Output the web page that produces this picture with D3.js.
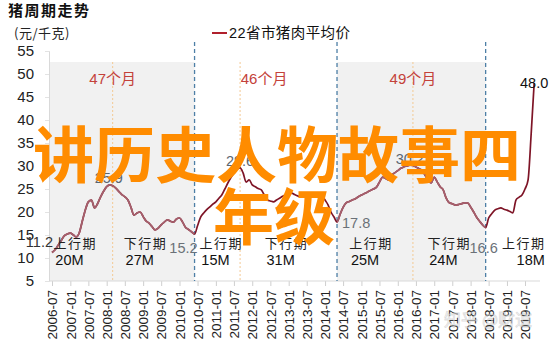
<!DOCTYPE html>
<html>
<head>
<meta charset="utf-8">
<script src="https://cdn.jsdelivr.net/npm/d3@7"></script>
<style>
  body { margin: 0; background: #fff; }
  svg { display: block; font-family: "Liberation Sans", Arial, sans-serif; }
</style>
</head>
<body>
<div id="chart"></div>
<script>
// 22省市猪肉平均价 (元/千克), one value a month from 2006-07
let startMonth = "2006-07"
let prices2006 = [11.2, 11.8, 12.8, 13.8, 14.8, 15.2, 15.4, 15.0, 14.6, 15.5, 18.0, 20.5]
let prices2007 = [22.2, 22.6, 20.9, 21.8, 23.3, 24.5, 25.5, 25.9, 25.7, 25.2, 24.5, 23.8]
let prices2008 = [23.3, 22.6, 21.0, 19.3, 19.8, 20.0, 19.0, 18.0, 17.6, 16.8, 16.1, 16.5]
let prices2009 = [17.2, 17.8, 18.3, 18.0, 17.8, 18.5, 18.7, 17.8, 16.7, 16.2, 15.7, 15.2]
let prices2010 = [17.0, 18.9, 19.8, 20.5, 21.1, 21.7, 22.2, 23.0, 23.7, 25.0, 26.3, 27.5]
let prices2011 = [28.5, 29.3, 29.6, 28.5, 26.5, 27.0, 25.9, 25.5, 25.1, 24.8, 23.7, 22.6]
let prices2012 = [22.4, 22.2, 22.6, 23.0, 23.4, 23.7, 23.9, 24.1, 23.8, 23.5, 23.3, 23.5]
let prices2013 = [23.7, 23.9, 24.0, 24.1, 23.9, 23.7, 22.6, 21.5, 20.0, 18.9, 17.8, 19.5]
let prices2014 = [21.0, 22.0, 22.3, 22.6, 22.9, 23.3, 23.7, 24.0, 24.3, 24.7, 25.0, 25.4]
let prices2015 = [26.5, 27.6, 27.3, 27.0, 28.0, 28.5, 29.0, 29.5, 29.8, 30.0, 30.2, 30.1]
let prices2016 = [29.8, 29.4, 29.1, 28.0, 27.0, 26.3, 27.6, 26.5, 25.5, 24.8, 23.0, 22.0]
let prices2017 = [21.8, 21.5, 21.6, 21.8, 22.0, 22.0, 21.1, 20.0, 18.9, 18.0, 17.2, 16.6]
let prices2018 = [18.7, 19.6, 20.4, 20.7, 20.9, 20.6, 20.4, 20.1, 19.8, 22.6, 23.2, 23.7, 25.0, 27.0, 37.0, 48.0]

// cycle turning points
let troughMonths = ["2010-06", "2014-05", "2018-06"]
let peakMonths = ["2008-03", "2011-09", "2016-06"]
let cycleLabels = ["47个月", "46个月", "49个月"]
let phaseNames = ["上行期", "下行期", "上行期", "下行期", "上行期", "下行期", "上行期"]
let phaseLengths = ["20M", "27M", "15M", "31M", "25M", "24M", "18M"]
// months whose value is written on the chart
let labelledMonths = ["2006-07", "2008-02", "2010-06", "2011-09", "2014-05", "2016-05", "2018-06", "2019-10"]

let xTickLabels = ["2006-07", "2007-01", "2007-07", "2008-01", "2008-07", "2009-01", "2009-07",
  "2010-01", "2010-07", "2011-01", "2011-07", "2012-01", "2012-07", "2013-01", "2013-07",
  "2014-01", "2014-07", "2015-01", "2015-07", "2016-01", "2016-07", "2017-01", "2017-07",
  "2018-01", "2018-07", "2019-01", "2019-07"]
let yTicks = [5, 10, 15, 20, 25, 30, 35, 40, 45, 50, 55]

let width = 550, height = 348
let plotLeft = 50, plotRight = 540, plotTop = 62, plotBottom = 281

let parseMonth = d3.timeParse("%Y-%m")
let fmtMonth = d3.timeFormat("%Y-%m")

let prices = [].concat(prices2006, prices2007, prices2008, prices2009, prices2010, prices2011,
  prices2012, prices2013, prices2014, prices2015, prices2016, prices2017, prices2018)
let series = prices.map(function(v, i) {
  return { date: d3.timeMonth.offset(parseMonth(startMonth), i), value: v }
})

// SCALES
let xScale = d3.scaleTime()
  .domain([parseMonth("2006-07"), parseMonth("2019-07")])
  .range([52, 525])
let yScale = d3.scaleLinear()
  .domain([5, 55])
  .range([plotBottom, 51])

let svg = d3.select("#chart").append("svg")
  .attr("width", width)
  .attr("height", height)

// grey bands for the 1st and 3rd cycles
let troughX = troughMonths.map(function(m) { return xScale(parseMonth(m)) })
let bands = [[plotLeft, troughX[0]], [troughX[1], troughX[2]]]

svg.selectAll(".band")
  .data(bands)
  .enter().append("rect")
  .attr("class", "band")
  .attr("x", function(d) { return d[0] })
  .attr("width", function(d) { return d[1] - d[0] })
  .attr("y", plotTop)
  .attr("height", plotBottom - plotTop)
  .attr("fill", "#f1f1f1")

let clip = svg.append("clipPath").attr("id", "bandClip")
clip.selectAll("rect")
  .data(bands)
  .enter().append("rect")
  .attr("x", function(d) { return d[0] })
  .attr("width", function(d) { return d[1] - d[0] })
  .attr("y", 0)
  .attr("height", height)

// AXES
let xAxis = d3.axisBottom(xScale)
  .tickValues(xTickLabels.map(parseMonth))
  .tickFormat(fmtMonth)
  .tickSize(5)

let gx = svg.append("g")
  .attr("class", "x axis")
  .attr("transform", "translate(0," + plotBottom + ")")
  .call(xAxis)
gx.select(".domain").remove()
gx.selectAll(".tick line").attr("stroke", "#cfcfcf")
gx.selectAll("text")
  .attr("transform", "rotate(-90)")
  .attr("x", -9)
  .attr("y", 0)
  .attr("dy", "0.35em")
  .style("text-anchor", "end")
  .style("font-size", "13.5px")
  .attr("fill", "#222")
svg.append("line")
  .attr("x1", plotLeft).attr("x2", plotRight)
  .attr("y1", plotBottom).attr("y2", plotBottom)
  .attr("stroke", "#d9d9d9")

let yAxis = d3.axisLeft(yScale)
  .tickValues(yTicks)
  .tickSize(4)
  .tickPadding(11)
let gy = svg.append("g")
  .attr("class", "y axis")
  .attr("transform", "translate(" + (plotLeft - 1) + ",0)")
  .call(yAxis)
gy.select(".domain").attr("stroke", "#d9d9d9")
gy.selectAll(".tick line").attr("stroke", "#e3e3e3")
gy.selectAll("text")
  .style("font-size", "15px")
  .attr("fill", "#222")

// cycle boundaries
svg.selectAll(".trough")
  .data(troughMonths)
  .enter().append("line")
  .attr("class", "trough")
  .attr("x1", function(d) { return xScale(parseMonth(d)) })
  .attr("x2", function(d) { return xScale(parseMonth(d)) })
  .attr("y1", plotTop - 20)
  .attr("y2", plotBottom)
  .attr("stroke", "#4d7fa6")
  .attr("stroke-width", 1.3)
  .attr("stroke-dasharray", "4,3")

svg.selectAll(".peak")
  .data(peakMonths)
  .enter().append("line")
  .attr("class", "peak")
  .attr("x1", function(d) { return xScale(parseMonth(d)) })
  .attr("x2", function(d) { return xScale(parseMonth(d)) })
  .attr("y1", plotTop)
  .attr("y2", plotBottom)
  .attr("stroke", "#f3c993")
  .attr("stroke-width", 1)
  .attr("stroke-dasharray", "2,2")

// cycle length labels
let cycleDx = [0, 24, 0]
svg.selectAll(".cycle-label")
  .data(cycleLabels)
  .enter().append("text")
  .attr("class", "cycle-label")
  .attr("x", function(d, i) { return xScale(parseMonth(peakMonths[i])) + cycleDx[i] })
  .attr("y", 84)
  .attr("text-anchor", "middle")
  .style("font-size", "15px")
  .style("font-family", "'Liberation Sans', 'Noto Sans CJK SC', sans-serif")
  .attr("fill", "#c4423a")
  .text(function(d) { return d })

// PRICE LINE
let line = d3.line()
  .x(function(d) { return xScale(d.date) })
  .y(function(d) { return yScale(d.value) })
  .curve(d3.curveMonotoneX)

svg.append("path")
  .datum(series)
  .attr("fill", "none")
  .attr("stroke", "#7e1426")
  .attr("stroke-width", 1.7)
  .attr("d", line)

svg.append("path")
  .datum(series)
  .attr("clip-path", "url(#bandClip)")
  .attr("fill", "none")
  .attr("stroke", "#a5606d")
  .attr("stroke-width", 1.7)
  .attr("d", line)

// phase labels
let phaseEdges = [startMonth, peakMonths[0], troughMonths[0], peakMonths[1], troughMonths[1],
  peakMonths[2], troughMonths[2]].map(function(m) { return xScale(parseMonth(m)) })
phaseEdges.push(plotRight)
let phaseDx = [-7, -8, 4, -2, -4, 0, 11]

phaseNames.forEach(function(name, i) {
  let cx = (phaseEdges[i] + phaseEdges[i + 1]) / 2 + phaseDx[i]
  svg.append("text")
    .attr("x", cx)
    .attr("y", 248)
    .attr("text-anchor", "middle")
    .style("font-family", "'Noto Sans CJK SC', sans-serif")
    .style("font-size", "13px")
    .style("letter-spacing", "1.5px")
    .attr("fill", "#222")
    .text(name)
  let last = i === phaseNames.length - 1
  svg.append("text")
    .attr("x", last ? cx + 21 : cx - 20)
    .attr("y", 265)
    .attr("text-anchor", last ? "end" : "start")
    .style("font-size", "14.5px")
    .attr("fill", "#111")
    .text(phaseLengths[i])
})

// value labels at turning points
let valueLabelStyle = [
  { dx: 1, dy: -5, anchor: "end", color: "#333" },
  { dx: -1, dy: -2, anchor: "middle", color: "#5b6570" },
  { dx: 3, dy: 19, anchor: "end", color: "#6b7178" },
  { dx: 0, dy: -2, anchor: "middle", color: "#5b6570" },
  { dx: 5, dy: 6, anchor: "start", color: "#6b7178" },
  { dx: 0, dy: -1, anchor: "middle", color: "#5b6570" },
  { dx: -2, dy: 25, anchor: "middle", color: "#6b7178" },
  { dx: 0, dy: 5, anchor: "middle", color: "#111" }
]
labelledMonths.forEach(function(m, i) {
  let d = series.find(function(p) { return fmtMonth(p.date) === m })
  let s = valueLabelStyle[i]
  svg.append("text")
    .attr("x", xScale(d.date) + s.dx)
    .attr("y", yScale(d.value) + s.dy)
    .attr("text-anchor", s.anchor)
    .style("font-size", "14.5px")
    .attr("fill", s.color)
    .text(d.value.toFixed(1))
})

// TITLE, UNIT, LEGEND
svg.append("text")
  .attr("x", 8).attr("y", 16)
  .style("font-family", "'Noto Sans CJK SC', sans-serif")
  .style("font-size", "15px")
  .style("font-weight", "bold")
  .style("letter-spacing", "1.5px")
  .attr("fill", "#111")
  .text("猪周期走势")

svg.append("text")
  .attr("x", 14).attr("y", 38)
  .style("font-family", "'Noto Sans CJK SC', sans-serif")
  .style("font-size", "13px")
  .style("letter-spacing", "0.5px")
  .attr("fill", "#222")
  .text("(元/千克)")

svg.append("line")
  .attr("x1", 212).attr("x2", 227)
  .attr("y1", 33).attr("y2", 33)
  .attr("stroke", "#b0202c")
  .attr("stroke-width", 2)
svg.append("text")
  .attr("x", 229).attr("y", 38)
  .attr("textLength", 121)
  .attr("lengthAdjust", "spacing")
  .style("font-family", "'Liberation Sans', 'Noto Sans CJK SC', sans-serif")
  .style("font-size", "14.5px")
  .attr("fill", "#111")
  .text("22省市猪肉平均价")

// big orange caption laid over the chart
svg.append("text")
  .attr("x", 277).attr("y", 151)
  .attr("text-anchor", "middle")
  .attr("dominant-baseline", "central")
  .style("font-family", "'Noto Sans CJK SC', sans-serif")
  .style("font-size", "61px")
  .style("font-weight", "bold")
  .attr("fill", "#ff8c00")
  .text("讲历史人物故事四")
svg.append("text")
  .attr("x", 274).attr("y", 213)
  .attr("text-anchor", "middle")
  .attr("dominant-baseline", "central")
  .style("font-family", "'Noto Sans CJK SC', sans-serif")
  .style("font-size", "61px")
  .style("font-weight", "bold")
  .attr("fill", "#ff8c00")
  .text("年级")

// faint watermark
svg.append("text")
  .attr("x", 532).attr("y", 326)
  .attr("text-anchor", "end")
  .style("font-family", "'Noto Sans CJK SC', sans-serif")
  .style("font-size", "17px")
  .attr("fill", "#ffffff")
  .attr("fill-opacity", 0.55)
  .attr("stroke", "#9a9a9a")
  .attr("stroke-opacity", 0.35)
  .attr("stroke-width", 0.8)
  .text("知乎 @财道")
</script>
</body>
</html>
